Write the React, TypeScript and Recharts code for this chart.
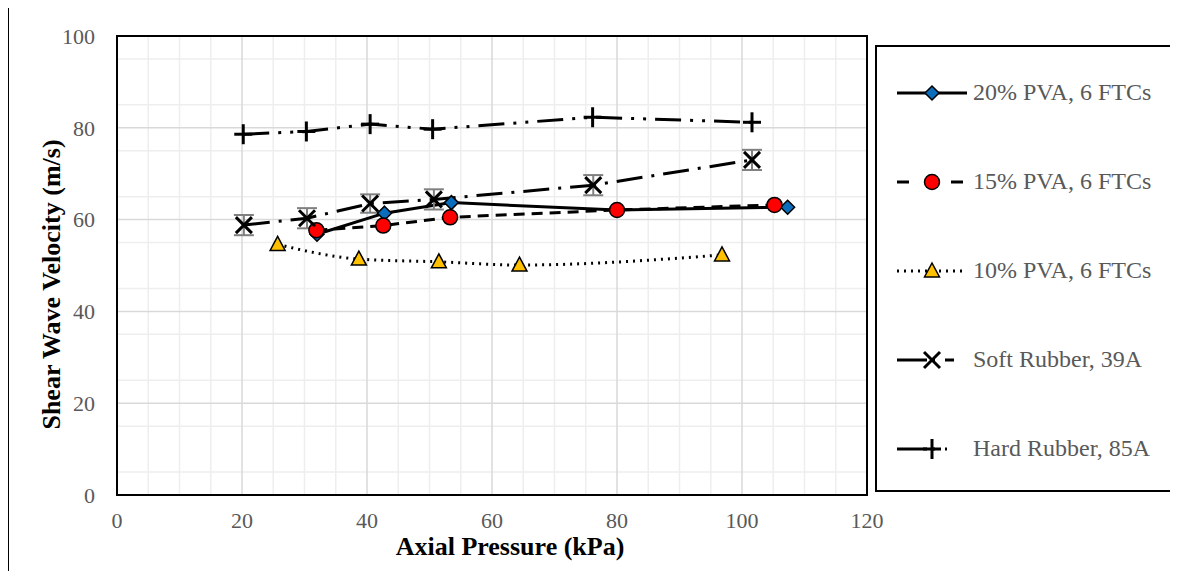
import React from "react";
import {
  LineChart,
  Line,
  XAxis,
  YAxis,
  CartesianGrid,
  Legend,
  ReferenceArea,
  ErrorBar,
} from "recharts";

const FONT = "'Liberation Serif', 'Times New Roman', serif";

// tick and grid positions
const xTicks = [0, 20, 40, 60, 80, 100, 120];
const yTicks = [0, 20, 40, 60, 80, 100];
const xMinor = [5, 10, 15, 25, 30, 35, 45, 50, 55, 65, 70, 75, 85, 90, 95, 105, 110, 115];
const yMinor = [5, 10, 15, 25, 30, 35, 45, 50, 55, 65, 70, 75, 85, 90, 95];

// series values (x = axial pressure kPa, y = Vs m/s)
const pva20X = [32.0, 42.8, 53.5, 80.0, 107.3];
const pva20Y = [56.8, 61.4, 63.7, 62.1, 62.7];
const pva15X = [31.9, 42.6, 53.3, 80.0, 105.2];
const pva15Y = [57.7, 58.7, 60.5, 62.1, 63.2];
const pva10X = [25.7, 38.7, 51.5, 64.4, 96.8];
const pva10Y = [54.6, 51.4, 50.8, 50.1, 52.3];
const softX = [20.3, 30.4, 40.5, 50.7, 76.2, 101.6];
const softY = [58.8, 60.3, 63.5, 64.4, 67.5, 73.0];
const softErr = [2.2, 2.2, 2.0, 2.2, 2.2, 2.2];
const hardX = [20.2, 30.3, 40.5, 50.5, 76.1, 101.6];
const hardY = [78.6, 79.2, 80.8, 79.7, 82.3, 81.2];

const toRows = (xs: number[], ys: number[], errs?: number[]) =>
  xs.map((x, i) => ({ x, y: ys[i], err: errs ? errs[i] : undefined }));

// marker shapes
const Diamond = ({ cx, cy }: { cx: number; cy: number }) => (
  <polygon
    points={`${cx},${cy - 7} ${cx + 7},${cy} ${cx},${cy + 7} ${cx - 7},${cy}`}
    fill="#0A6EBD"
    stroke="#000"
    strokeWidth={1.5}
  />
);
const Circle = ({ cx, cy }: { cx: number; cy: number }) => (
  <circle cx={cx} cy={cy} r={7.5} fill="#FF0000" stroke="#000" strokeWidth={1.5} />
);
const Triangle = ({ cx, cy }: { cx: number; cy: number }) => (
  <polygon
    points={`${cx},${cy - 8} ${cx + 7.5},${cy + 6} ${cx - 7.5},${cy + 6}`}
    fill="#FFC000"
    stroke="#000"
    strokeWidth={1.5}
  />
);
const Cross = ({ cx, cy }: { cx: number; cy: number }) => (
  <g stroke="#000" strokeWidth={3}>
    <line x1={cx - 8} y1={cy - 8} x2={cx + 8} y2={cy + 8} />
    <line x1={cx - 8} y1={cy + 8} x2={cx + 8} y2={cy - 8} />
  </g>
);
const Plus = ({ cx, cy }: { cx: number; cy: number }) => (
  <g stroke="#000" strokeWidth={3}>
    <line x1={cx - 9} y1={cy} x2={cx + 9} y2={cy} />
    <line x1={cx} y1={cy - 10} x2={cx} y2={cy + 10} />
  </g>
);

const series = [
  { name: "20% PVA, 6 FTCs", data: toRows(pva20X, pva20Y), dash: undefined, Marker: Diamond, curve: "linear" },
  { name: "15% PVA, 6 FTCs", data: toRows(pva15X, pva15Y), dash: "11 7", Marker: Circle, curve: "linear" },
  { name: "10% PVA, 6 FTCs", data: toRows(pva10X, pva10Y), dash: "2 5", Marker: Triangle, curve: "monotone" },
  { name: "Soft Rubber, 39A", data: toRows(softX, softY, softErr), dash: "26 9 3 9", Marker: Cross, curve: "linear" },
  { name: "Hard Rubber, 85A", data: toRows(hardX, hardY), dash: "26 9 3 9 3 9", Marker: Plus, curve: "linear" },
];

const legendSample: Record<string, string | undefined> = {
  "20% PVA, 6 FTCs": undefined,
  "15% PVA, 6 FTCs": "12 15",
  "10% PVA, 6 FTCs": "2 5",
  "Soft Rubber, 39A": "30 6 2 10 9",
  "Hard Rubber, 85A": "30 6 2 10 2 40",
};

function renderLegend() {
  return (
    <div
      style={{
        boxSizing: "border-box",
        width: 298,
        height: 447,
        border: "2px solid #000",
        background: "#fff",
        paddingTop: 1,
      }}
    >
      {series.map((s) => (
        <div
          key={s.name}
          style={{ height: 89, display: "flex", alignItems: "center", paddingLeft: 20 }}
        >
          <svg width={70} height={24} style={{ flexShrink: 0 }}>
            <line
              x1={0}
              y1={12}
              x2={70}
              y2={12}
              stroke="#000"
              strokeWidth={3}
              strokeDasharray={legendSample[s.name]}
            />
            <s.Marker cx={35} cy={12} />
          </svg>
          <span
            style={{ marginLeft: 6, fontFamily: FONT, fontSize: 24, color: "#595959", whiteSpace: "nowrap" }}
          >
            {s.name}
          </span>
        </div>
      ))}
    </div>
  );
}

const titleStyle = { fontWeight: "bold" as const, fontSize: 26, fill: "#000", fontFamily: FONT };

export default function App() {
  const tickStyle = { fill: "#595959", fontSize: 22, fontFamily: FONT };
  return (
    <div
      style={{
        position: "relative",
        marginTop: -2,
        width: 1170,
        height: 565,
        boxSizing: "border-box",
        borderLeft: "1px solid #000",
        borderTop: "1px solid #000",
        background: "#fff",
      }}
    >
      <LineChart
        width={1169}
        height={564}
        margin={{ top: 29, right: 311, left: 8, bottom: 46 }}
      >
        <CartesianGrid
          stroke="#EEEEEE"
          strokeWidth={1.5}
          horizontalValues={yMinor}
          verticalValues={xMinor}
        />
        <CartesianGrid
          stroke="#D9D9D9"
          strokeWidth={1.5}
          horizontalValues={yTicks}
          verticalValues={xTicks}
        />
        <XAxis
          type="number"
          dataKey="x"
          domain={[0, 120]}
          ticks={xTicks}
          tick={tickStyle}
          axisLine={false}
          tickLine={false}
          tickSize={10}
          tickMargin={7}
          height={30}
          label={{
            content: (p: any) => (
              <text
                x={p.viewBox.x + p.viewBox.width / 2 + 18}
                y={p.viewBox.y + p.viewBox.height + 30}
                textAnchor="middle"
                style={titleStyle}
              >
                Axial Pressure (kPa)
              </text>
            ),
          }}
        />
        <YAxis
          type="number"
          domain={[0, 100]}
          ticks={yTicks}
          tick={tickStyle}
          axisLine={false}
          tickLine={false}
          tickSize={14}
          tickMargin={8}
          width={100}
          label={{
            content: (p: any) => {
              const cx = p.viewBox.x + 34;
              const cy = p.viewBox.y + p.viewBox.height / 2 + 19;
              return (
                <text
                  x={cx}
                  y={cy}
                  transform={`rotate(-90, ${cx}, ${cy})`}
                  textAnchor="middle"
                  dominantBaseline="central"
                  style={titleStyle}
                >
                  Shear Wave Velocity (m/s)
                </text>
              );
            },
          }}
        />
        <ReferenceArea x1={0} x2={120} y1={0} y2={100} fill="none" stroke="#000" strokeWidth={2} />
        {series.map((s) => (
          <Line
            key={s.name}
            data={s.data}
            dataKey="y"
            name={s.name}
            type={s.curve as "linear" | "monotone"}
            stroke="#000"
            strokeWidth={3}
            strokeDasharray={s.dash}
            isAnimationActive={false}
            activeDot={false}
            dot={(p: any) => <s.Marker key={`${s.name}-${p.index}`} cx={p.cx} cy={p.cy} />}
          >
            {s.name === "Soft Rubber, 39A" && (
              <ErrorBar dataKey="err" width={10} stroke="#808080" strokeWidth={2} direction="y" />
            )}
          </Line>
        ))}
        <Legend
          layout="vertical"
          align="center"
          verticalAlign="middle"
          content={renderLegend}
          wrapperStyle={{ left: 866, top: 38, width: 298, height: 447 }}
        />
      </LineChart>
    </div>
  );
}
